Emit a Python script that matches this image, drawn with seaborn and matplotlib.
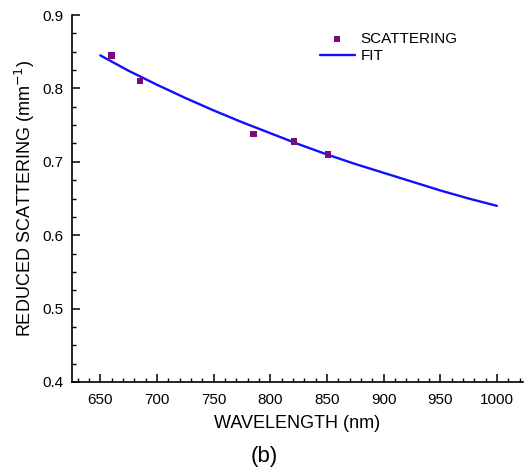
import matplotlib
matplotlib.use("Agg")
import matplotlib.pyplot as plt
import seaborn as sns
import pandas as pd
from matplotlib.ticker import MultipleLocator, FormatStrFormatter

# Measured data
wavelength = [660, 685, 785, 821, 851]
scattering = [0.845, 0.810, 0.738, 0.728, 0.710]

# Fit curve values
fit_wavelength = [650, 675, 700, 725, 750, 775, 800, 825, 850, 875, 900, 925, 950, 975, 1000]
fit_values = [0.845, 0.824, 0.805, 0.787, 0.770, 0.754, 0.739, 0.724, 0.710, 0.697, 0.685, 0.673, 0.661, 0.650, 0.640]

sns.set_theme(style="ticks")
plt.rcParams['font.family'] = ['Liberation Sans', 'DejaVu Sans']
plt.rcParams['xtick.direction'] = 'in'
plt.rcParams['ytick.direction'] = 'in'
plt.rcParams['text.color'] = 'black'
plt.rcParams['axes.labelcolor'] = 'black'
plt.rcParams['xtick.color'] = 'black'
plt.rcParams['ytick.color'] = 'black'

fig = plt.figure(figsize=(5.32, 4.75), dpi=100)
ax = fig.add_axes([0.1353, 0.1958, 0.8477, 0.7726])

df_pts = pd.DataFrame({"x": wavelength, "y": scattering})
df_fit = pd.DataFrame({"x": fit_wavelength, "y": fit_values})

sns.lineplot(data=df_fit, x="x", y="y", ax=ax, color="#1010ff", linewidth=1.7,
             label="FIT", zorder=2)
sns.scatterplot(data=df_pts, x="x", y="y", ax=ax, color="#7b0a7b", marker="s",
                s=22, edgecolor="none", label="SCATTERING", zorder=3)

ax.set_xlim(625, 1023)
ax.set_ylim(0.4, 0.9)
ax.xaxis.set_major_locator(MultipleLocator(50))
ax.xaxis.set_minor_locator(MultipleLocator(10))
ax.yaxis.set_major_locator(MultipleLocator(0.1))
ax.yaxis.set_minor_locator(MultipleLocator(0.025))
ax.yaxis.set_major_formatter(FormatStrFormatter('%.1f'))

ax.tick_params(axis='both', which='major', direction='in', length=6, width=1.1,
               labelsize=11, colors='black')
ax.tick_params(axis='x', which='major', pad=8)
ax.tick_params(axis='y', which='major', pad=6)
ax.tick_params(axis='both', which='minor', direction='in', length=3, width=1.0,
               colors='black')
for s in ['top', 'right']:
    ax.spines[s].set_visible(False)
for s in ['left', 'bottom']:
    ax.spines[s].set_linewidth(1.2)
    ax.spines[s].set_color('black')

ax.set_xlabel("WAVELENGTH (nm)", fontsize=13, labelpad=6)
ax.set_ylabel("REDUCED SCATTERING (mm$^{-1}$)", fontsize=13, labelpad=4)

handles, labels = ax.get_legend_handles_labels()
order = [labels.index("SCATTERING"), labels.index("FIT")]
ax.legend([handles[i] for i in order], [labels[i] for i in order],
          loc='upper left', bbox_to_anchor=(0.532, 0.975), frameon=False,
          borderpad=0, handlelength=2.3, handletextpad=0.4, labelspacing=0.2,
          fontsize=11)

fig.text(0.497, 0.038, "(b)", ha='center', va='center', fontsize=16)

fig.savefig("out.png", dpi=100)
